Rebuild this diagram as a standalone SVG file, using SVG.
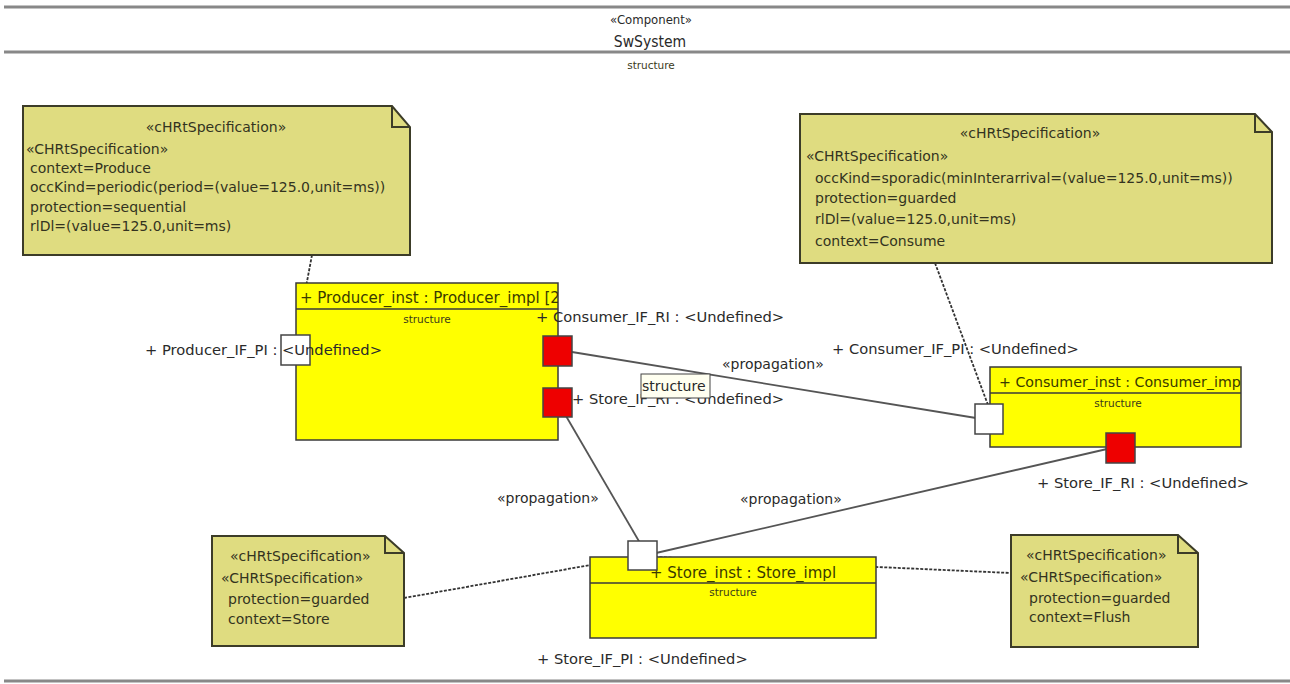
<svg xmlns="http://www.w3.org/2000/svg" width="1290" height="684" viewBox="0 0 1290 684">
  <style>
    text { font-family: "DejaVu Sans", "Liberation Sans", sans-serif; fill: #2a2a2a; }
    .hdr { font-family: "DejaVu Sans Condensed", "DejaVu Sans", sans-serif; font-size: 13px; text-anchor: middle; }
    .small { font-size: 10.5px; text-anchor: middle; fill: #3a3a1a; }
    .lbl { font-size: 14.7px; }
    .prop { font-size: 14px; }
    .nt { font-size: 14px; fill: #333320; }
    .note { fill: #dfdc80; stroke: #3c3c28; stroke-width: 2; }
    .fold { fill: none; stroke: #3c3c28; stroke-width: 2; }
    .part { fill: #ffff00; stroke: #3a3a3a; stroke-width: 1.5; }
    .sep { stroke: #3a3a3a; stroke-width: 1.5; }
    .title { font-size: 15px; fill: #3a3a00; }
    .pi { fill: #ffffff; stroke: #444; stroke-width: 1.5; }
    .ri { fill: #ee0000; stroke: #444; stroke-width: 1.5; }
    .conn { stroke: #555; stroke-width: 1.8; fill: none; }
    .anchor { stroke: #333; stroke-width: 1.8; stroke-dasharray: 3 1.5; fill: none; }
    .frame { stroke: #888; stroke-width: 3; }
  </style>

  <!-- enclosing component frame -->
  <g id="SwSystem">
    <line class="frame" x1="4" y1="7" x2="1290" y2="7"/>
    <line class="frame" x1="4" y1="52" x2="1290" y2="52"/>
    <line class="frame" x1="4" y1="681" x2="1290" y2="681"/>
    <text class="hdr" x="651" y="24">«Component»</text>
    <text class="hdr" x="650" y="47" style="font-size:15.5px">SwSystem</text>
    <text class="small" x="651" y="69">structure</text>
  </g>

  <!-- connectors -->
  <g id="connectors">
    <line class="conn" x1="572" y1="352" x2="976" y2="418"/>
    <line class="conn" x1="566" y1="416" x2="640" y2="543"/>
    <line class="conn" x1="656" y1="553" x2="1107" y2="449"/>
    <line class="anchor" x1="312" y1="255" x2="296" y2="340"/>
    <line class="anchor" x1="935" y1="263" x2="988" y2="405"/>
    <line class="anchor" x1="404" y1="598" x2="630" y2="558"/>
    <line class="anchor" x1="655" y1="557" x2="1011" y2="573"/>
    <text class="prop" x="722" y="369">«propagation»</text>
    <text class="prop" x="497" y="503">«propagation»</text>
    <text class="prop" x="740" y="504">«propagation»</text>
  </g>

  <!-- comment notes -->
  <g id="note_producer">
    <path class="note" d="M23,106 H392 L410,127 V255 H23 Z"/>
    <path class="fold" d="M392,106 V127 H410"/>
    <text class="nt" x="216" y="132" text-anchor="middle">«cHRtSpecification»</text>
    <text class="nt" x="26" y="154">«CHRtSpecification»</text>
    <text class="nt" x="30" y="173">context=Produce</text>
    <text class="nt" x="30" y="192">occKind=periodic(period=(value=125.0,unit=ms))</text>
    <text class="nt" x="30" y="212">protection=sequential</text>
    <text class="nt" x="30" y="231">rlDl=(value=125.0,unit=ms)</text>
  </g>

  <g id="note_consumer">
    <path class="note" d="M800,114 H1255 L1272,132 V263 H800 Z"/>
    <path class="fold" d="M1255,114 V132 H1272"/>
    <text class="nt" x="1030" y="138" text-anchor="middle">«cHRtSpecification»</text>
    <text class="nt" x="806" y="161">«CHRtSpecification»</text>
    <text class="nt" x="815" y="183">occKind=sporadic(minInterarrival=(value=125.0,unit=ms))</text>
    <text class="nt" x="815" y="203">protection=guarded</text>
    <text class="nt" x="815" y="224">rlDl=(value=125.0,unit=ms)</text>
    <text class="nt" x="815" y="246">context=Consume</text>
  </g>

  <g id="note_store">
    <path class="note" d="M212,536 H385 L404,553 V646 H212 Z"/>
    <path class="fold" d="M385,536 V553 H404"/>
    <text class="nt" x="230" y="561">«cHRtSpecification»</text>
    <text class="nt" x="221" y="583">«CHRtSpecification»</text>
    <text class="nt" x="228" y="604">protection=guarded</text>
    <text class="nt" x="228" y="624">context=Store</text>
  </g>

  <g id="note_flush">
    <path class="note" d="M1011,535 H1178 L1198,553 V647 H1011 Z"/>
    <path class="fold" d="M1178,535 V553 H1198"/>
    <text class="nt" x="1026" y="560">«cHRtSpecification»</text>
    <text class="nt" x="1020" y="582">«CHRtSpecification»</text>
    <text class="nt" x="1029" y="603">protection=guarded</text>
    <text class="nt" x="1029" y="622">context=Flush</text>
  </g>

  <!-- parts -->
  <g id="Producer_inst">
    <rect class="part" x="296" y="283" width="262" height="157"/>
    <line class="sep" x1="296" y1="309" x2="558" y2="309"/>
    <svg x="296" y="283" width="262" height="26" overflow="hidden">
      <text class="title" x="4" y="20">+ Producer_inst : Producer_impl [2]</text>
    </svg>
    <text class="small" x="427" y="323">structure</text>
    <rect class="pi" x="281" y="335" width="29" height="30"/>
    <rect class="ri" x="543" y="336" width="29" height="30"/>
    <rect class="ri" x="543" y="388" width="29" height="29"/>
    <text class="lbl" x="145" y="355">+ Producer_IF_PI : &lt;Undefined&gt;</text>
    <text class="lbl" x="536" y="322">+ Consumer_IF_RI : &lt;Undefined&gt;</text>
    <text class="lbl" x="572" y="404">+ Store_IF_RI : &lt;Undefined&gt;</text>
    <rect x="641" y="374" width="69" height="24" fill="#fffff0" stroke="#444" stroke-width="1"/>
    <text class="prop" x="642" y="391">structure</text>
  </g>

  <g id="Consumer_inst">
    <rect class="part" x="990" y="367" width="251" height="80"/>
    <line class="sep" x1="990" y1="393" x2="1241" y2="393"/>
    <svg x="990" y="367" width="251" height="26" overflow="hidden">
      <text class="title" x="9" y="20" style="font-size:14.2px">+ Consumer_inst : Consumer_impl</text>
    </svg>
    <text class="small" x="1118" y="407">structure</text>
    <rect class="pi" x="975" y="404" width="28" height="30"/>
    <rect class="ri" x="1106" y="433" width="29" height="30"/>
    <text class="lbl" x="832" y="354">+ Consumer_IF_PI : &lt;Undefined&gt;</text>
    <text class="lbl" x="1037" y="488">+ Store_IF_RI : &lt;Undefined&gt;</text>
  </g>

  <g id="Store_inst">
    <rect class="part" x="590" y="557" width="286" height="81"/>
    <line class="sep" x1="590" y1="583" x2="876" y2="583"/>
    <text class="title" x="650" y="578">+ Store_inst : Store_impl</text>
    <text class="small" x="733" y="596">structure</text>
    <rect class="pi" x="628" y="541" width="29" height="29"/>
    <text class="lbl" x="537" y="664">+ Store_IF_PI : &lt;Undefined&gt;</text>
  </g>
</svg>
